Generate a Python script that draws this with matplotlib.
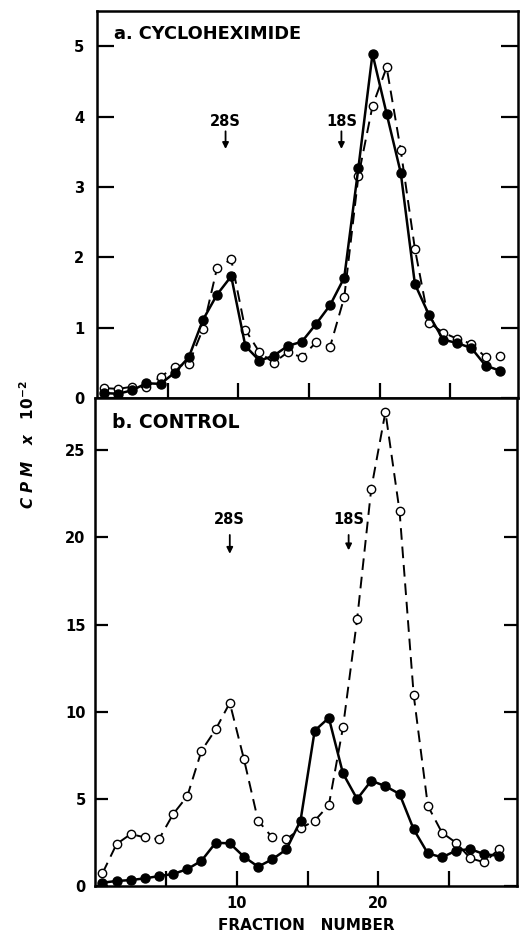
import numpy as np
import matplotlib
matplotlib.use("Agg")
import matplotlib.pyplot as plt

# fraction numbers (points sit half a fraction left of the tick numbers)
fraction = np.arange(1, 30)

# a. cycloheximide, CPM x 10^-2
cyclo_filled = [0.07, 0.06, 0.11, 0.21, 0.20, 0.36, 0.58, 1.11, 1.47, 1.73,
                0.74, 0.53, 0.60, 0.74, 0.80, 1.05, 1.32, 1.71, 3.27, 4.89,
                4.04, 3.20, 1.62, 1.18, 0.83, 0.78, 0.71, 0.46, 0.39]
cyclo_open = [0.14, 0.13, 0.16, 0.15, 0.30, 0.44, 0.49, 0.98, 1.85, 1.97,
              0.97, 0.65, 0.50, 0.65, 0.58, 0.79, 0.73, 1.43, 3.15, 4.15,
              4.70, 3.52, 2.12, 1.07, 0.93, 0.84, 0.77, 0.58, 0.60]

# b. control
ctrl_filled = [0.19, 0.29, 0.34, 0.44, 0.57, 0.69, 0.97, 1.45, 2.48, 2.45,
               1.68, 1.11, 1.53, 2.10, 3.75, 8.91, 9.65, 6.46, 4.99, 6.04,
               5.73, 5.28, 3.25, 1.87, 1.65, 2.03, 2.12, 1.82, 1.74]
ctrl_open = [0.73, 2.41, 2.98, 2.79, 2.69, 4.13, 5.16, 7.76, 8.98, 10.51,
             7.28, 3.75, 2.79, 2.68, 3.31, 3.75, 4.64, 9.10, 15.3, 22.8,
             27.2, 21.5, 10.95, 4.60, 3.06, 2.48, 1.59, 1.36, 2.10]

top_yticks = [0, 1, 2, 3, 4, 5]
bot_yticks = [0, 5, 10, 15, 20, 25]
xticks = [5, 10, 15, 20, 25]
xticklabels = ['', '10', '', '20', '']

x = fraction - 0.5

fig = plt.figure(figsize=(5.27, 9.36), dpi=100)
ax1 = fig.add_axes([0.184, 0.5748, 0.799, 0.4134])
ax2 = fig.add_axes([0.181, 0.0534, 0.800, 0.5214])

font = dict(family='DejaVu Sans', weight='bold')


def draw(ax, filled, hollow):
    ax.plot(x, hollow, color='black', lw=1.4, ls=(0, (6, 3.5)),
            marker='o', ms=6, mfc='white', mec='black', mew=1.0, zorder=3)
    ax.plot(x, filled, color='black', lw=1.8, marker='o', ms=6.5,
            mfc='black', mec='black', zorder=4)
    for s in ax.spines.values():
        s.set_linewidth(1.8)
    ax.set_xlim(0, 29.8)
    ax.set_xticks(xticks)
    ax.tick_params(axis='both', direction='in', width=1.6, labelsize=10.5)
    ax.tick_params(axis='y', right=True)


draw(ax1, cyclo_filled, cyclo_open)
ax1.set_ylim(0, 5.5)
ax1.set_yticks(top_yticks)
ax1.set_yticklabels([str(t) for t in top_yticks], fontweight='bold')
ax1.tick_params(axis='y', length=12, pad=9)
ax1.tick_params(axis='x', length=11, labelbottom=False)
ax1.text(1.2, 5.18, 'a. CYCLOHEXIMIDE', fontsize=12.8, va='center', **font)
ax1.text(9.1, 3.93, '28S', fontsize=10.5, ha='center', va='center', **font)
ax1.annotate('', xy=(9.1, 3.5), xytext=(9.1, 3.83),
             arrowprops=dict(arrowstyle='-|>', lw=1.3, color='black',
                             mutation_scale=9))
ax1.text(17.3, 3.93, '18S', fontsize=10.5, ha='center', va='center', **font)
ax1.annotate('', xy=(17.3, 3.5), xytext=(17.3, 3.83),
             arrowprops=dict(arrowstyle='-|>', lw=1.3, color='black',
                             mutation_scale=9))

draw(ax2, ctrl_filled, ctrl_open)
ax2.set_ylim(0, 28)
ax2.set_yticks(bot_yticks)
ax2.set_yticklabels([str(t) for t in bot_yticks], fontweight='bold')
ax2.set_xticklabels(xticklabels, fontweight='bold')
ax2.tick_params(axis='y', length=9.5, pad=7)
ax2.tick_params(axis='x', length=11, pad=7)
ax2.text(1.2, 26.6, 'b. CONTROL', fontsize=13.5, va='center', **font)
ax2.text(9.5, 21.0, '28S', fontsize=10.5, ha='center', va='center', **font)
ax2.annotate('', xy=(9.5, 18.9), xytext=(9.5, 20.3),
             arrowprops=dict(arrowstyle='-|>', lw=1.3, color='black',
                             mutation_scale=9))
ax2.text(17.9, 21.0, '18S', fontsize=10.5, ha='center', va='center', **font)
ax2.annotate('', xy=(17.9, 19.1), xytext=(17.9, 20.3),
             arrowprops=dict(arrowstyle='-|>', lw=1.3, color='black',
                             mutation_scale=9))
ax2.set_xlabel('FRACTION   NUMBER', fontsize=11, labelpad=5, **font)

fig.text(0.053, 0.525, r'C P M   x   $\mathbf{10^{-2}}$', rotation=90,
         fontsize=11, ha='center', va='center', family='DejaVu Sans',
         weight='bold', style='italic')

fig.savefig('out.png', dpi=100)
